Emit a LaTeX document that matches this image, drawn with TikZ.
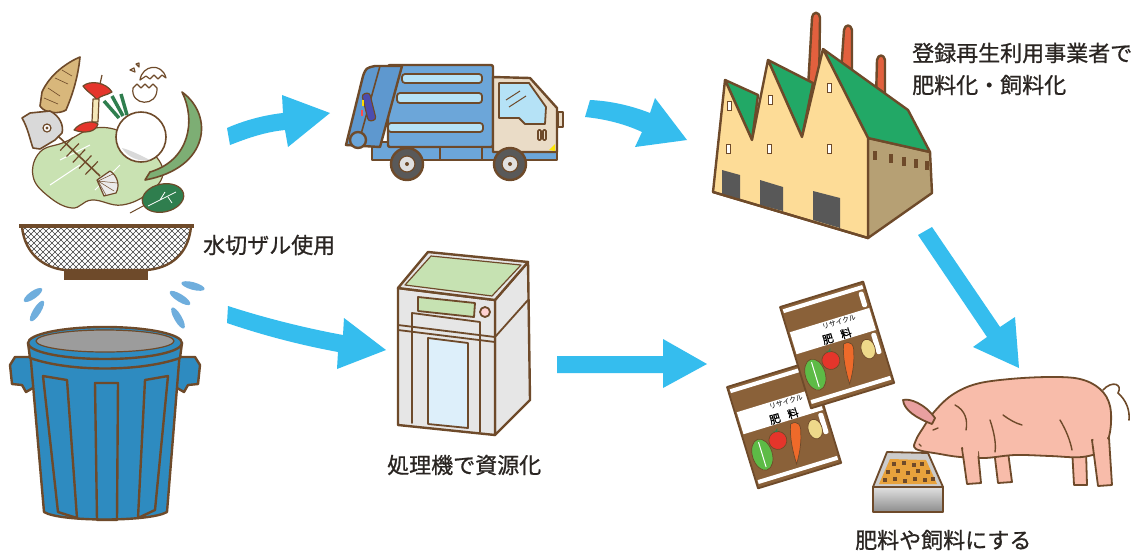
\documentclass[tikz,border=0pt]{standalone}
\usepackage{fontspec}
\newfontfamily\jp[FakeBold=0.9]{Noto Sans CJK JP}
\newfontfamily\jpsmall{Noto Sans CJK JP}
\usetikzlibrary{calc}
\definecolor{ol}{HTML}{6E4A2A}
\definecolor{arrowblue}{HTML}{35BDEE}
\definecolor{txt}{HTML}{2A2522}
\definecolor{canblue}{HTML}{2E8BC0}
\definecolor{canrim}{HTML}{9C9C9C}
\definecolor{drop}{HTML}{6FAEDD}
\definecolor{truckblue}{HTML}{6CA6D9}
\definecolor{truckdark}{HTML}{5E98CF}
\definecolor{stripe}{HTML}{B5E2F6}
\definecolor{cab}{HTML}{EADCC7}
\definecolor{facade}{HTML}{FDDC97}
\definecolor{roof}{HTML}{22A866}
\definecolor{sidewall}{HTML}{B6A074}
\definecolor{chim}{HTML}{E2603E}
\definecolor{door}{HTML}{585858}
\definecolor{machgray}{HTML}{E6E6E6}
\definecolor{machgreen}{HTML}{C6E2B2}
\definecolor{glass}{HTML}{DDEFFA}
\definecolor{bagbrown}{HTML}{8A6139}
\definecolor{cabbage}{HTML}{5DBB46}
\definecolor{tomato}{HTML}{E5352B}
\definecolor{carrot}{HTML}{EE6A2A}
\definecolor{potato}{HTML}{EED98A}
\definecolor{pig}{HTML}{F8BCAA}
\definecolor{pigear}{HTML}{E9A0A0}
\definecolor{feed}{HTML}{E8A23C}
\definecolor{lettuce}{HTML}{C9E2B2}
\definecolor{bamboo}{HTML}{D8B77B}
\definecolor{leafgreen}{HTML}{2F7E4E}
\definecolor{peel}{HTML}{7DAE74}
\tikzset{
  outl/.style={draw=ol, line width=2.4pt, line join=round, line cap=round},
  thin outl/.style={draw=ol, line width=1.2pt, line join=round, line cap=round},
  flow/.style={fill=arrowblue},
  caption/.style={font=\jp\fontsize{22}{26}\selectfont, text=txt, inner sep=0pt, anchor=west},
  meshline/.style={draw=black!75, line width=0.5pt},
  waterdrop/.style={fill=drop},
}
% a fertilizer sack drawn in its own frame (origin top-left corner)
\newcommand{\fertbag}[3]{%
\begin{scope}[shift={(#1,#2)}, rotate=#3]
  \filldraw[outl, line width=1.8pt, fill=bagbrown] (0,0) -- (87,0) -- (87,106) -- (0,106) -- cycle;
  \fill[white] (2,3) rectangle (85,7);
  \fill[white] (2,27) rectangle (85,50);
  \fill[white] (2,98) rectangle (85,102);
  \fill[white, rounded corners=2pt] (79,9) rectangle (84,25);
  \fill[white, rounded corners=2pt] (79,52) rectangle (84,74);
  \node[transform shape, inner sep=0pt, font=\jpsmall\fontsize{7}{7}\selectfont] at (52,31.5) {リサイクル};
  \node[transform shape, inner sep=0pt, font=\jp\fontsize{11}{11}\selectfont] at (46,44.5) {肥\hspace{8pt}料};
  \filldraw[draw=ol, line width=0.7pt, fill=cabbage] (14,75) ellipse [x radius=10, y radius=16];
  \draw[white, line width=1pt] (14,62) -- (14,88);
  \filldraw[draw=ol, line width=0.7pt, fill=tomato] (33,66) circle [radius=9];
  \fill[leafgreen] (33,57) -- (30,55) -- (33,56.5) -- (36,54) -- (35,58) -- cycle;
  \filldraw[draw=ol, line width=0.7pt, fill=carrot] (50,54) .. controls (58,52) and (60,58) .. (57,66) .. controls (54,78) and (48,88) .. (44,94) .. controls (44,82) and (45,66) .. (50,54) -- cycle;
  \filldraw[draw=ol, line width=0.7pt, fill=potato] (72,66) ellipse [x radius=7, y radius=10];
\end{scope}}
\begin{document}
\begin{tikzpicture}[x=1pt,y=-1pt]
\useasboundingbox (0,0) rectangle (1147,552);
\fill[white] (0,0) rectangle (1147,552);

% ---------- food scraps ----------
\filldraw[thin outl, fill=lettuce] plot[smooth cycle, tension=0.7] coordinates {(33,176) (40,152) (65,142) (95,128) (125,133) (150,150) (163,172) (150,192) (122,205) (92,200) (72,208) (48,196)};
\draw[white, line width=1pt] (50,185) -- (80,165) (95,190) -- (120,165) (60,160) -- (90,145);
\filldraw[thin outl, line width=1.6pt, fill=bamboo] (80,57) .. controls (68,62) and (50,74) .. (42,92) -- (40,106) .. controls (45,114) and (60,114) .. (66,110) .. controls (72,96) and (78,78) .. (80,57) -- cycle;
\draw[ol, line width=0.6pt] (48,88) -- (60,96) (44,98) -- (58,104) (55,78) -- (68,84) (62,70) -- (72,76);
\filldraw[thin outl, line width=1.6pt, fill=peel] (182,92) .. controls (214,115) and (210,168) .. (145,180) -- (150,172) .. controls (190,160) and (196,120) .. (182,92) -- cycle;
\draw[leafgreen, line width=3.5pt] (119,118) -- (104,101) (123,116) -- (112,96) (127,115) -- (121,94);
\filldraw[thin outl, line width=1.6pt, fill=white] (141,137) circle [radius=25];
\fill[black!15] (122,148) .. controls (128,158) and (140,162) .. (150,160) .. controls (140,155) and (130,150) .. (122,148);
\filldraw[thin outl, fill=tomato] (83,86) .. controls (90,80) and (106,82) .. (112,92) .. controls (106,96) and (100,95) .. (97,100) .. controls (94,95) and (88,93) .. (83,86) -- cycle;
\filldraw[thin outl, fill=potato!60] (93,99) -- (99,99) -- (98,122) -- (92,122) -- cycle;
\filldraw[thin outl, fill=tomato] (74,130) .. controls (80,122) and (92,120) .. (98,124) .. controls (96,132) and (85,134) .. (74,130) -- cycle;
\draw[ol, line width=1.2pt] (100,84) -- (102,75);
\filldraw[thin outl, fill=white] (133,88) .. controls (130,106) and (158,108) .. (157,88) -- (153,84) -- (149,88) -- (145,84) -- (141,88) -- (137,84) -- cycle;
\filldraw[thin outl, fill=white] (140,80) .. controls (142,65) and (162,62) .. (166,78) -- (162,75) -- (158,79) -- (154,75) -- (150,79) -- (146,76) -- cycle;
\filldraw[thin outl, fill=white] (130,70) -- (134,68) -- (135,72) -- cycle (136,64) -- (139,63) -- (139,67) -- cycle;
% fish
\filldraw[thin outl, line width=1.6pt, fill=black!15] (22,118) -- (30,113) -- (50,111) .. controls (60,116) and (64,126) .. (62,133) -- (55,140) -- (40,149) -- (33,148) .. controls (30,140) and (28,128) .. (22,118) -- cycle;
\filldraw[thin outl, fill=white] (47,128) circle [radius=4];
\fill[ol] (47,128) circle [radius=1.6];
\draw[ol, line width=1.6pt] (58,136) -- (100,176);
\foreach \t in {0.2,0.35,0.5,0.65,0.8}
  \draw[ol, line width=1.2pt] ($(58,136)!\t!(100,176)$) ++(-6.2,6.5) -- ++(12.4,-13);
\filldraw[thin outl, fill=black!8] (97,180) -- (110,171) .. controls (118,176) and (120,186) .. (116,193) -- (104,196) -- cycle;
\draw[ol, line width=0.5pt] (98,181) -- (113,174) (98,181) -- (117,183) (98,181) -- (114,191) (98,181) -- (106,195);
% leaf
\draw[ol, line width=1pt] (145,205) -- (130,213);
\filldraw[thin outl, fill=leafgreen, rotate around={12:(163,198)}] (163,198) ellipse [x radius=21, y radius=14];
\draw[white, line width=0.8pt] (148,206) -- (176,192) (160,200) -- (165,192) (168,197) -- (172,203);

% ---------- colander ----------
\begin{scope}
  \clip (22,227) .. controls (25,255) and (45,268) .. (65,270) -- (147,270) .. controls (170,268) and (188,255) .. (191,227) -- cycle;
  \foreach \k in {-54,-48,...,200} {
    \draw[meshline] (\k,227) -- ++(50,50);
    \draw[meshline] (\k+50,227) -- ++(-50,50);
  }
\end{scope}
\draw[outl] (22,227) .. controls (25,255) and (45,268) .. (65,270) -- (147,270) .. controls (170,268) and (188,255) .. (191,227);
\draw[ol, line width=4pt] (19,226) -- (194,226);
\fill[ol] (64,269) rectangle (148,280);

% ---------- water drops ----------
\fill[waterdrop, rotate around={35:(33,295)}] (33,295) ellipse [x radius=11, y radius=3.8];
\fill[waterdrop, rotate around={58:(37,311)}] (37,311) ellipse [x radius=12, y radius=3.8];
\fill[waterdrop, rotate around={-15:(193,286)}] (193,286) ellipse [x radius=12, y radius=3.8];
\fill[waterdrop, rotate around={-32:(180,298)}] (180,298) ellipse [x radius=12, y radius=3.8];
\fill[waterdrop, rotate around={-60:(178,318)}] (178,318) ellipse [x radius=12, y radius=3.8];

% ---------- garbage can ----------
\filldraw[outl, fill=canblue] (35,357) -- (15,357) -- (10,365) -- (12,384) -- (22,385) -- (26,392) -- (38,385) -- cycle;
\filldraw[outl, fill=canblue] (175,357) -- (195,357) -- (200,365) -- (198,384) -- (188,385) -- (184,392) -- (172,385) -- cycle;
\filldraw[outl, fill=canblue] (30,350) -- (180,350) -- (167,512) .. controls (150,522) and (60,522) .. (44,512) -- cycle;
\filldraw[outl, fill=canblue] (28,343) -- (30,358) .. controls (70,372) and (140,372) .. (180,358) -- (182,343) -- cycle;
\filldraw[outl, fill=canblue] (105,343) ellipse [x radius=77, y radius=16];
\filldraw[thin outl, fill=canrim] (105,341) ellipse [x radius=69, y radius=11];
\draw[outl] (43,376) -- (67,380) -- (77,518) -- (58,512) -- cycle;
\draw[outl] (95,383) -- (118,383) -- (117,520) -- (97,520) -- cycle;
\draw[outl] (145,380) -- (168,376) -- (155,510) -- (138,518) -- cycle;

% ---------- garbage truck ----------
\filldraw[outl, fill=truckblue] (372,142) rectangle (557,160);
\filldraw[outl, fill=truckblue, rounded corners=2pt] (388,65) rectangle (493,147);
\filldraw[outl, line width=1.8pt, fill=stripe, rounded corners=3pt] (402,74) rectangle (482,83);
\filldraw[outl, line width=1.8pt, fill=stripe, rounded corners=3pt] (397,93) rectangle (482,103);
\filldraw[outl, line width=1.8pt, fill=stripe, rounded corners=3pt] (388,123) rectangle (483,132);
\filldraw[outl, fill=truckdark] (346,145) -- (363,76) .. controls (366,68) .. (375,66) -- (402,66) -- (380,147) -- cycle;
\draw[outl, line width=1.6pt] (380,66) -- (358,145);
\filldraw[thin outl, fill=blue!55!black!70, rounded corners=3pt, rotate around={14:(369,107)}] (365,93) rectangle (373,121);
\fill[yellow!80!orange] (362,100) rectangle (364,106);
\fill[red!70] (361,110) rectangle (363,116);
\filldraw[outl, fill=truckblue] (358,140) circle [radius=8];
\filldraw[outl, fill=cab] (493,77) -- (530,78) -- (557,108) -- (557,152) -- (493,152) -- cycle;
\filldraw[outl, line width=1.8pt, fill=stripe] (499,83) -- (529,83) -- (546,107) -- (545,124) -- (525,124) -- (519,118) -- (499,118) -- cycle;
\draw[ol, line width=1pt] (506,100) -- (520,91) (509,107) -- (526,96);
\draw[ol, line width=1.6pt, rounded corners=1pt] (538,130) rectangle (541,140) (543,130) rectangle (546,140);
\filldraw[thin outl, fill=cab] (558,112) rectangle (563,127);
\fill[yellow!90!orange] (549,150) -- (555,144) -- (555,151) -- cycle;
\filldraw[outl, fill=truckblue] (440,147) rectangle (482,160);
\filldraw[outl, fill=black!65] (407,164) circle [radius=16];
\filldraw[thin outl, fill=black!12] (407,164) circle [radius=8];
\fill[ol] (407,164) circle [radius=2];
\filldraw[outl, fill=black!65] (510,164) circle [radius=16];
\filldraw[thin outl, fill=black!12] (510,164) circle [radius=8];
\fill[ol] (510,164) circle [radius=2];

% ---------- factory ----------
\filldraw[outl, fill=chim] (808,88) -- (812,18) .. controls (813,11) and (819,11) .. (820,18) -- (819,88) -- cycle;
\filldraw[outl, fill=chim] (841,72) -- (844,30) .. controls (845,24) and (851,24) .. (852,30) -- (852,72) -- cycle;
\filldraw[outl, fill=chim] (876,98) -- (877,60) .. controls (878,54) and (884,54) .. (885,60) -- (885,98) -- cycle;
\filldraw[outl, fill=sidewall] (868,138) -- (930,152) -- (932,193) -- (868,238) -- cycle;
\filldraw[outl, fill=roof] (823,49) -- (908,110) -- (930,152) -- (868,138) -- cycle;
\filldraw[outl, fill=roof] (768,60) -- (813,83) -- (802,137) -- cycle;
\filldraw[outl, fill=roof] (725,80) -- (758,95) -- (752,140) -- cycle;
\filldraw[outl, fill=facade] (713,192) -- (725,80) -- (752,140) -- (768,60) -- (802,137) -- (823,49) -- (868,138) -- (868,238) -- cycle;
\fill[door] (722,170) -- (740,175) -- (740,199) -- (722,194) -- cycle;
\fill[door] (760,180) -- (783,187) -- (783,211) -- (760,205) -- cycle;
\fill[door] (813,191) -- (840,198) -- (840,228) -- (813,220) -- cycle;
\draw[outl] (713,192) -- (868,238);
\foreach \p in {(727,110),(768,104),(827,92),(726,153),(767,153),(827,153)}
  \filldraw[draw=ol, line width=0.8pt, fill=white] \p rectangle ++(4,-9);
\foreach \p in {(873,160),(889,163),(902,166),(914,168),(925,170)}
  \fill[ol] \p rectangle ++(4,-9);

% ---------- processing machine ----------
\filldraw[outl, fill=machgray] (495,300) -- (528,262) -- (530,400) -- (495,435) -- cycle;
\filldraw[outl, fill=machgray] (398,288) -- (495,300) -- (495,435) -- (398,425) -- cycle;
\filldraw[outl, fill=machgray] (398,288) -- (428,252) -- (528,262) -- (495,300) -- cycle;
\filldraw[thin outl, fill=machgreen] (405,285) -- (431,256) -- (521,265) -- (492,296) -- cycle;
\filldraw[outl, line width=1.8pt, fill=machgreen] (418,297) -- (475,303) -- (474,317) -- (418,311) -- cycle;
\filldraw[outl, line width=1.8pt, fill=pink!70] (485,312) circle [radius=5];
\draw[outl, line width=1.8pt] (398,325) -- (495,337) (398,330) -- (495,342);
\draw[outl, line width=1.8pt] (412,423) -- (412,313) -- (480,322) -- (480,432);
\filldraw[outl, line width=1.8pt, fill=glass] (428,338) -- (468,343) -- (468,428) -- (428,424) -- cycle;
\draw[outl, line width=1.8pt] (495,337) -- (528,300);

% ---------- fertilizer sacks ----------
\fertbag{727}{387}{17}
\fertbag{780}{307}{17}

% ---------- feed tray ----------
\filldraw[outl, line width=1.8pt, fill=black!20] (887,452) -- (928,453) -- (943,487) -- (873,487) -- cycle;
\fill[feed] (890,459) -- (926,460) -- (937,484) -- (879,484) -- cycle;
\foreach \p in {(892,462),(902,461),(912,463),(920,462),(886,470),(896,469),(906,471),(916,469),(926,470),(883,478),(893,477),(903,479),(913,477),(923,478),(931,477)}
  \fill[ol] \p rectangle ++(3.5,3.5);
\shade[top color=black!12, bottom color=black!45] (873,487) rectangle (943,512);
\draw[outl, line width=1.8pt] (873,487) rectangle (943,512);

% ---------- pig ----------
\filldraw[outl, line width=1.8pt, fill=pig] (994,450) -- (1008,452) -- (1012,482) -- (998,483) -- cycle;
\filldraw[outl, line width=1.8pt, fill=pig] (1072,448) -- (1086,450) -- (1087,485) -- (1074,485) -- cycle;
\filldraw[outl, line width=1.8pt, fill=pig] plot[smooth cycle, tension=0.6] coordinates {(916,449) (916,440) (923,428) (934,412) (952,395) (976,384) (1010,379) (1050,377) (1080,379) (1100,389) (1110,406) (1110,432) (1102,450) (1082,457) (1050,456) (1015,455) (985,458) (960,457) (940,454)};
\filldraw[outl, line width=1.8pt, fill=pig] (962,448) -- (978,452) -- (981,483) -- (967,484) -- cycle;
\filldraw[outl, line width=1.8pt, fill=pig] (1092,440) -- (1109,438) -- (1112,485) -- (1098,486) -- cycle;
\fill[pig] (963,446) -- (978,446) -- (978,456) -- (964,456) -- cycle;
\fill[pig] (1093,436) -- (1107,436) -- (1107,446) -- (1094,446) -- cycle;
\filldraw[outl, line width=1.8pt, fill=pigear] (935,418) .. controls (925,404) and (910,398) .. (903,400) .. controls (904,410) and (916,418) .. (932,424) -- cycle;
\draw[ol, line width=1.6pt, line cap=round] (1103,390) .. controls (1112,380) and (1123,384) .. (1118,393) .. controls (1126,400) and (1130,410) .. (1129,420);
\draw[ol, line width=1.4pt, line cap=round] (933,430) -- (938,428) (919,444) -- (921,446) (955,405) .. controls (965,410) and (968,420) .. (966,430) (1003,415) .. controls (1010,420) and (1015,423) .. (1022,425) (1060,420) .. controls (1066,430) and (1070,440) .. (1072,450) (990,420) .. controls (995,435) and (996,445) .. (995,452);

% ---------- flow arrows ----------
\coordinate (a1e) at (330,113);
\fill[flow] (227,128) .. controls (245,120) and (265,115) .. (283,113) -- (282,95) -- (a1e) -- (288,147) -- (285,130) .. controls (265,132) and (248,138) .. (230,145) -- cycle;
\coordinate (a2e) at (687,140);
\fill[flow] (590,100) .. controls (612,101) and (632,106) .. (650,113) -- (655,98) -- (a2e) -- (635,147) -- (642,132) .. controls (625,124) and (605,119) .. (585,117) -- cycle;
\coordinate (a3e) at (1019,368);
\fill[flow] (918,235) -- (932,227) -- (1000,327) -- (1015,317) -- (a3e) -- (973,347) -- (987,337) -- cycle;
\coordinate (a4e) at (386,350);
\fill[flow] (228,306) .. controls (265,318) and (305,328) .. (343,335) -- (344,318) -- (a4e) -- (337,369) -- (338,352) .. controls (300,345) and (262,335) .. (227,323) -- cycle;
\coordinate (a5e) at (707,364);
\fill[flow] (557,356) -- (663,356) -- (663,339) -- (a5e) -- (663,388) -- (663,373) -- (557,373) -- cycle;

% ---------- captions ----------
\node[caption] (lbl-zaru) at (203,245) {水切ザル使用};
\node[caption] (lbl-factory1) at (912,53) {登録再生利用事業者で};
\node[caption] (lbl-factory2) at (912,85) {肥料化・飼料化};
\node[caption] (lbl-machine) at (387,465) {処理機で資源化};
\node[caption] (lbl-feed) at (855,540) {肥料や飼料にする};
\end{tikzpicture}
\end{document}
